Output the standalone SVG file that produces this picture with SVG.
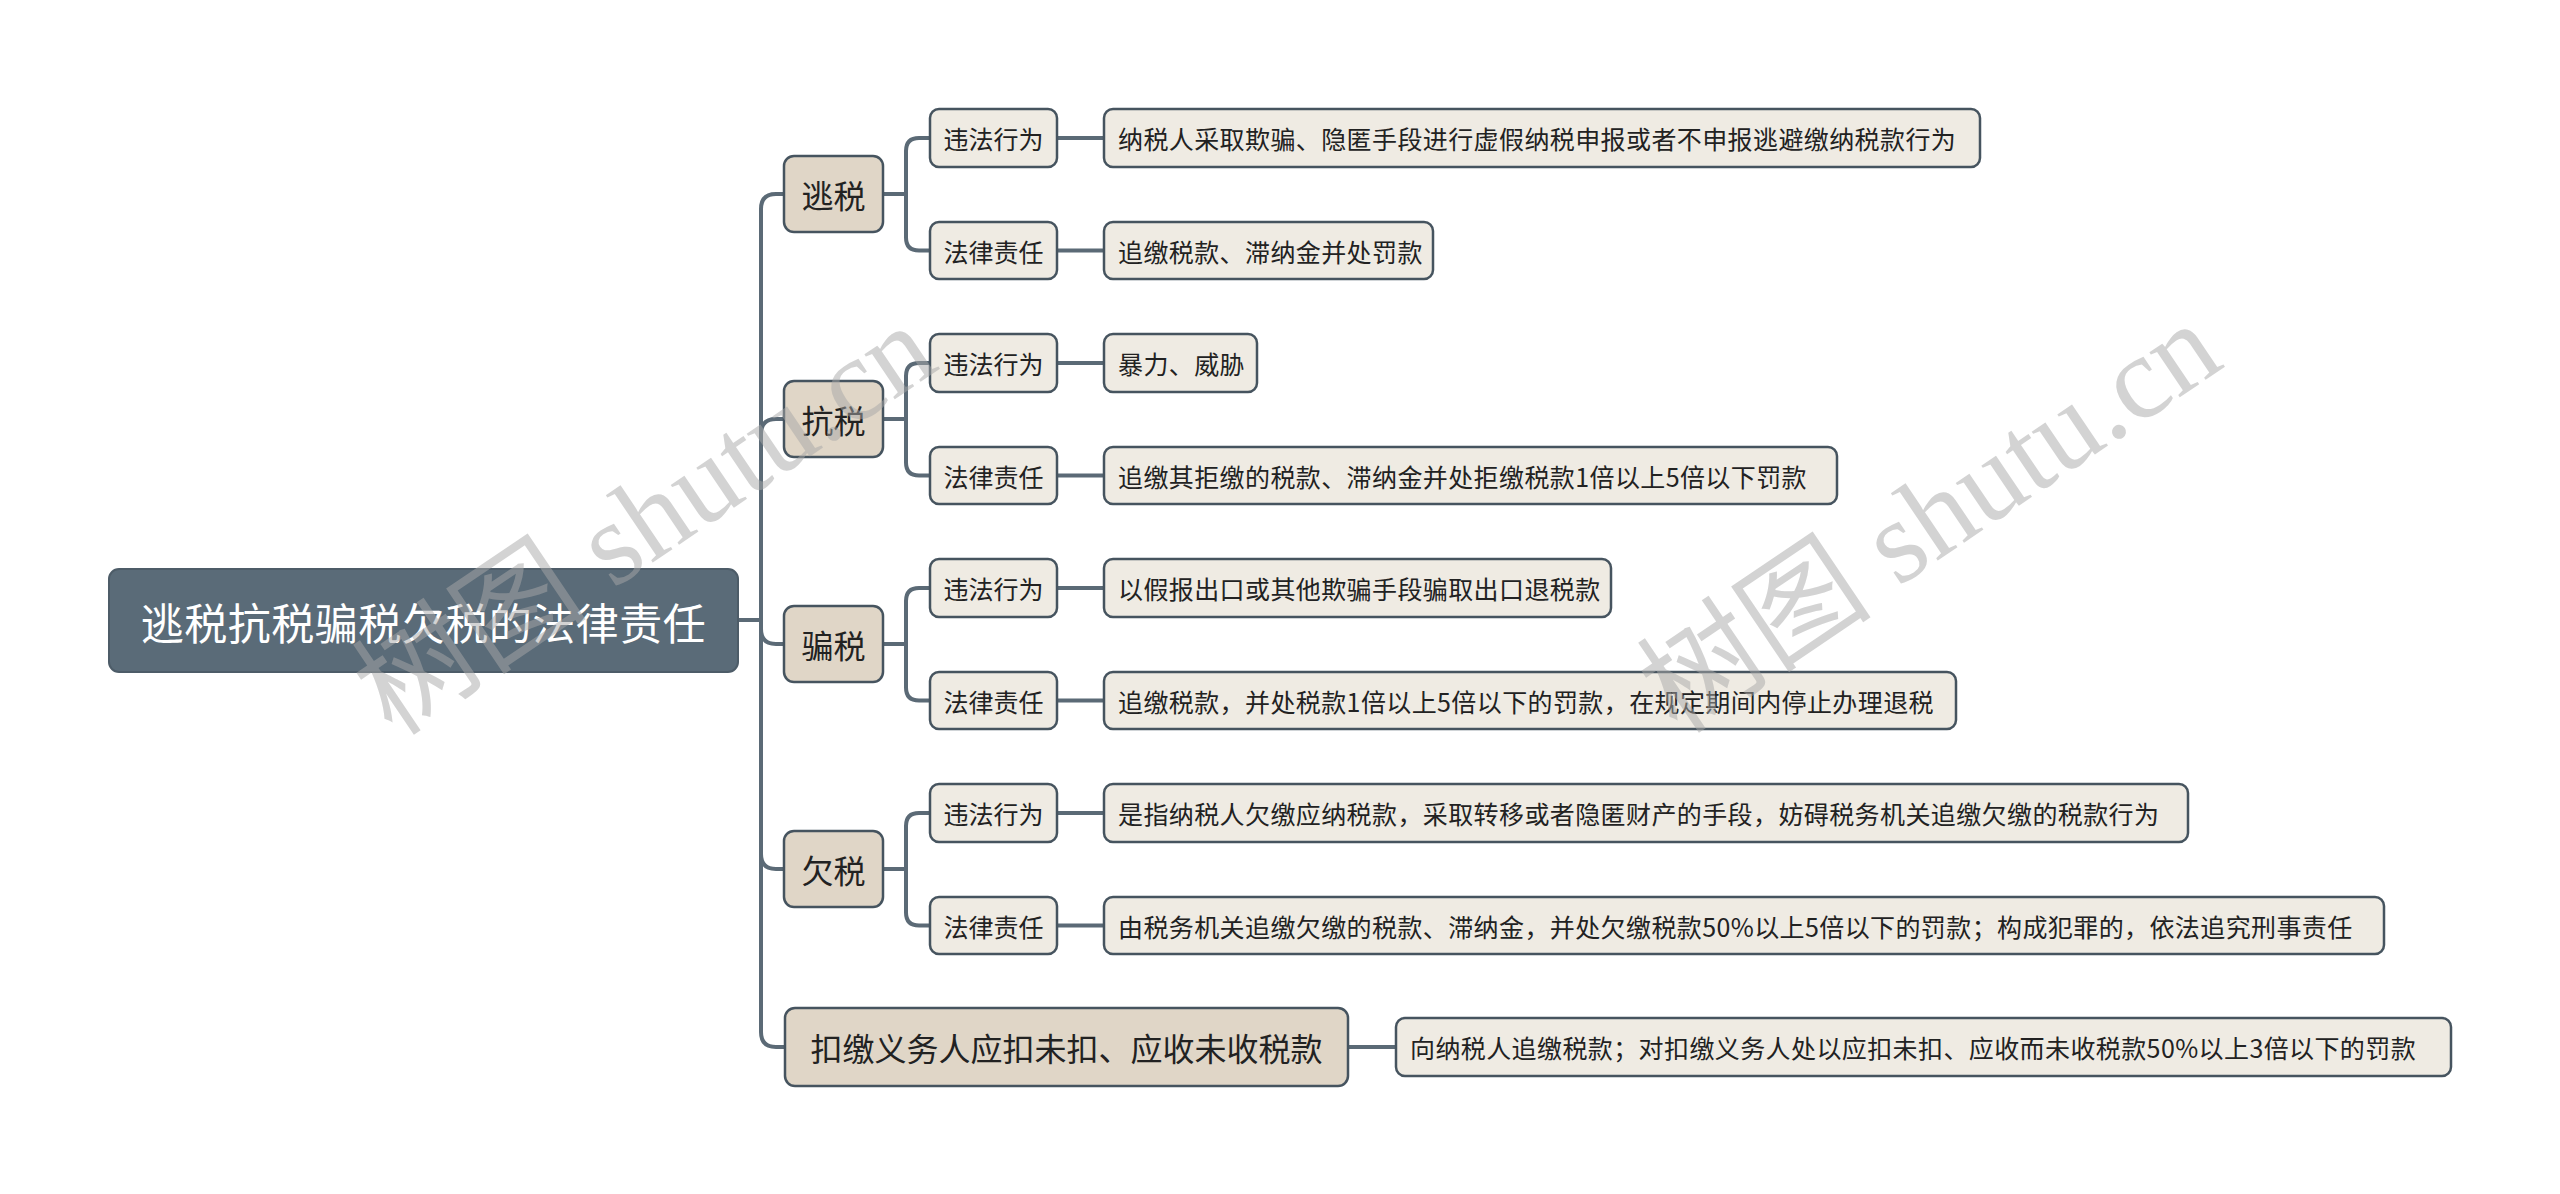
<svg xmlns="http://www.w3.org/2000/svg" width="2560" height="1194" viewBox="0 0 2560 1194">
<style>
.bg{fill:#ffffff}
.line{fill:none;stroke:#5b6a76;stroke-width:4;stroke-linecap:round;stroke-linejoin:round}
.root rect{fill:#5a6b78;stroke:#4d5c68;stroke-width:2}
.root text{fill:#ffffff;font-size:43px;text-anchor:middle;letter-spacing:0.5px}
.l1 rect{fill:#e0d6c7;stroke:#46545f;stroke-width:2.5}
.l1 text{fill:#222222;font-size:32px;text-anchor:middle}
.l2 rect{fill:#efebe3;stroke:#46545f;stroke-width:2.5}
.l2 text{fill:#222222;font-size:25px;text-anchor:middle}
.leaf rect{fill:#efebe3;stroke:#46545f;stroke-width:2.5}
.leaf text{fill:#222222;font-size:25px;text-anchor:start;letter-spacing:0.4px}
text{font-family:"Noto Sans CJK SC","Noto Sans",sans-serif;dominant-baseline:central}
.wm{font-family:"Liberation Serif","Noto Sans CJK SC",serif;font-size:118px;fill:#a8a8a8;opacity:0.5;text-anchor:middle;dominant-baseline:central}
</style>
<rect class="bg" x="0" y="0" width="2560" height="1194"/>

<g id="connectors">
  <path class="line" d="M738,620 H761 V209 Q761,194 776,194 H784"/>
  <path class="line" d="M738,620 H761 V434 Q761,419 776,419 H784"/>
  <path class="line" d="M738,620 H761 V629 Q761,644 776,644 H784"/>
  <path class="line" d="M738,620 H761 V854 Q761,869 776,869 H784"/>
  <path class="line" d="M738,620 H761 V1032 Q761,1047 776,1047 H785"/>

  <path class="line" d="M883,194 H906 V151 Q906,138 919,138 H930"/>
  <path class="line" d="M883,194 H906 V237.5 Q906,250.5 919,250.5 H930"/>
  <path class="line" d="M883,419 H906 V376 Q906,363 919,363 H930"/>
  <path class="line" d="M883,419 H906 V462.5 Q906,475.5 919,475.5 H930"/>
  <path class="line" d="M883,644 H906 V601 Q906,588 919,588 H930"/>
  <path class="line" d="M883,644 H906 V687.5 Q906,700.5 919,700.5 H930"/>
  <path class="line" d="M883,869 H906 V826 Q906,813 919,813 H930"/>
  <path class="line" d="M883,869 H906 V912.5 Q906,925.5 919,925.5 H930"/>

  <path class="line" d="M1057,138 H1104"/>
  <path class="line" d="M1057,250.5 H1104"/>
  <path class="line" d="M1057,363 H1104"/>
  <path class="line" d="M1057,475.5 H1104"/>
  <path class="line" d="M1057,588 H1104"/>
  <path class="line" d="M1057,700.5 H1104"/>
  <path class="line" d="M1057,813 H1104"/>
  <path class="line" d="M1057,925.5 H1104"/>
  <path class="line" d="M1348,1047 H1396"/>
</g>

<g id="root" class="root">
  <rect x="109" y="569" width="629" height="103" rx="10"/>
  <text x="423.5" y="620.5">逃税抗税骗税欠税的法律责任</text>
</g>

<g id="n-taoshui" class="l1">
  <rect x="784" y="156" width="99" height="76" rx="10"/>
  <text x="833.5" y="194">逃税</text>
</g>
<g id="n-kangshui" class="l1">
  <rect x="784" y="381" width="99" height="76" rx="10"/>
  <text x="833.5" y="419">抗税</text>
</g>
<g id="n-pianshui" class="l1">
  <rect x="784" y="606" width="99" height="76" rx="10"/>
  <text x="833.5" y="644">骗税</text>
</g>
<g id="n-qianshui" class="l1">
  <rect x="784" y="831" width="99" height="76" rx="10"/>
  <text x="833.5" y="869">欠税</text>
</g>
<g id="n-koujiao" class="l1">
  <rect x="785" y="1008" width="563" height="78" rx="10"/>
  <text x="1066.5" y="1047">扣缴义务人应扣未扣、应收未收税款</text>
</g>

<g id="n-taoshui-xw" class="l2">
  <rect x="930" y="109" width="127" height="58" rx="9"/>
  <text x="993.5" y="138">违法行为</text>
</g>
<g id="n-taoshui-zr" class="l2">
  <rect x="930" y="222" width="127" height="57" rx="9"/>
  <text x="993.5" y="250.5">法律责任</text>
</g>
<g id="n-kangshui-xw" class="l2">
  <rect x="930" y="334" width="127" height="58" rx="9"/>
  <text x="993.5" y="363">违法行为</text>
</g>
<g id="n-kangshui-zr" class="l2">
  <rect x="930" y="447" width="127" height="57" rx="9"/>
  <text x="993.5" y="475.5">法律责任</text>
</g>
<g id="n-pianshui-xw" class="l2">
  <rect x="930" y="559" width="127" height="58" rx="9"/>
  <text x="993.5" y="588">违法行为</text>
</g>
<g id="n-pianshui-zr" class="l2">
  <rect x="930" y="672" width="127" height="57" rx="9"/>
  <text x="993.5" y="700.5">法律责任</text>
</g>
<g id="n-qianshui-xw" class="l2">
  <rect x="930" y="784" width="127" height="58" rx="9"/>
  <text x="993.5" y="813">违法行为</text>
</g>
<g id="n-qianshui-zr" class="l2">
  <rect x="930" y="897" width="127" height="57" rx="9"/>
  <text x="993.5" y="925.5">法律责任</text>
</g>

<g id="leaf-taoshui-xw" class="leaf">
  <rect x="1104" y="109" width="876" height="58" rx="9"/>
  <text x="1118" y="138">纳税人采取欺骗、隐匿手段进行虚假纳税申报或者不申报逃避缴纳税款行为</text>
</g>
<g id="leaf-taoshui-zr" class="leaf">
  <rect x="1104" y="222" width="329" height="57" rx="9"/>
  <text x="1118" y="250.5">追缴税款、滞纳金并处罚款</text>
</g>
<g id="leaf-kangshui-xw" class="leaf">
  <rect x="1104" y="334" width="153" height="58" rx="9"/>
  <text x="1118" y="363">暴力、威胁</text>
</g>
<g id="leaf-kangshui-zr" class="leaf">
  <rect x="1104" y="447" width="733" height="57" rx="9"/>
  <text x="1118" y="475.5">追缴其拒缴的税款、滞纳金并处拒缴税款1倍以上5倍以下罚款</text>
</g>
<g id="leaf-pianshui-xw" class="leaf">
  <rect x="1104" y="559" width="507" height="58" rx="9"/>
  <text x="1118" y="588">以假报出口或其他欺骗手段骗取出口退税款</text>
</g>
<g id="leaf-pianshui-zr" class="leaf">
  <rect x="1104" y="672" width="852" height="57" rx="9"/>
  <text x="1118" y="700.5">追缴税款，并处税款1倍以上5倍以下的罚款，在规定期间内停止办理退税</text>
</g>
<g id="leaf-qianshui-xw" class="leaf">
  <rect x="1104" y="784" width="1084" height="58" rx="9"/>
  <text x="1118" y="813">是指纳税人欠缴应纳税款，采取转移或者隐匿财产的手段，妨碍税务机关追缴欠缴的税款行为</text>
</g>
<g id="leaf-qianshui-zr" class="leaf">
  <rect x="1104" y="897" width="1280" height="57" rx="9"/>
  <text x="1118" y="925.5">由税务机关追缴欠缴的税款、滞纳金，并处欠缴税款50%以上5倍以下的罚款；构成犯罪的，依法追究刑事责任</text>
</g>
<g id="leaf-koujiao" class="leaf">
  <rect x="1396" y="1018" width="1055" height="58" rx="9"/>
  <text x="1410" y="1047">向纳税人追缴税款；对扣缴义务人处以应扣未扣、应收而未收税款50%以上3倍以下的罚款</text>
</g>

<g id="watermark">
  <text class="wm" transform="translate(645,520) rotate(-34)">树图 shutu.cn</text>
  <text class="wm" transform="translate(1930,518) rotate(-34)">树图 shutu.cn</text>
</g>
</svg>
